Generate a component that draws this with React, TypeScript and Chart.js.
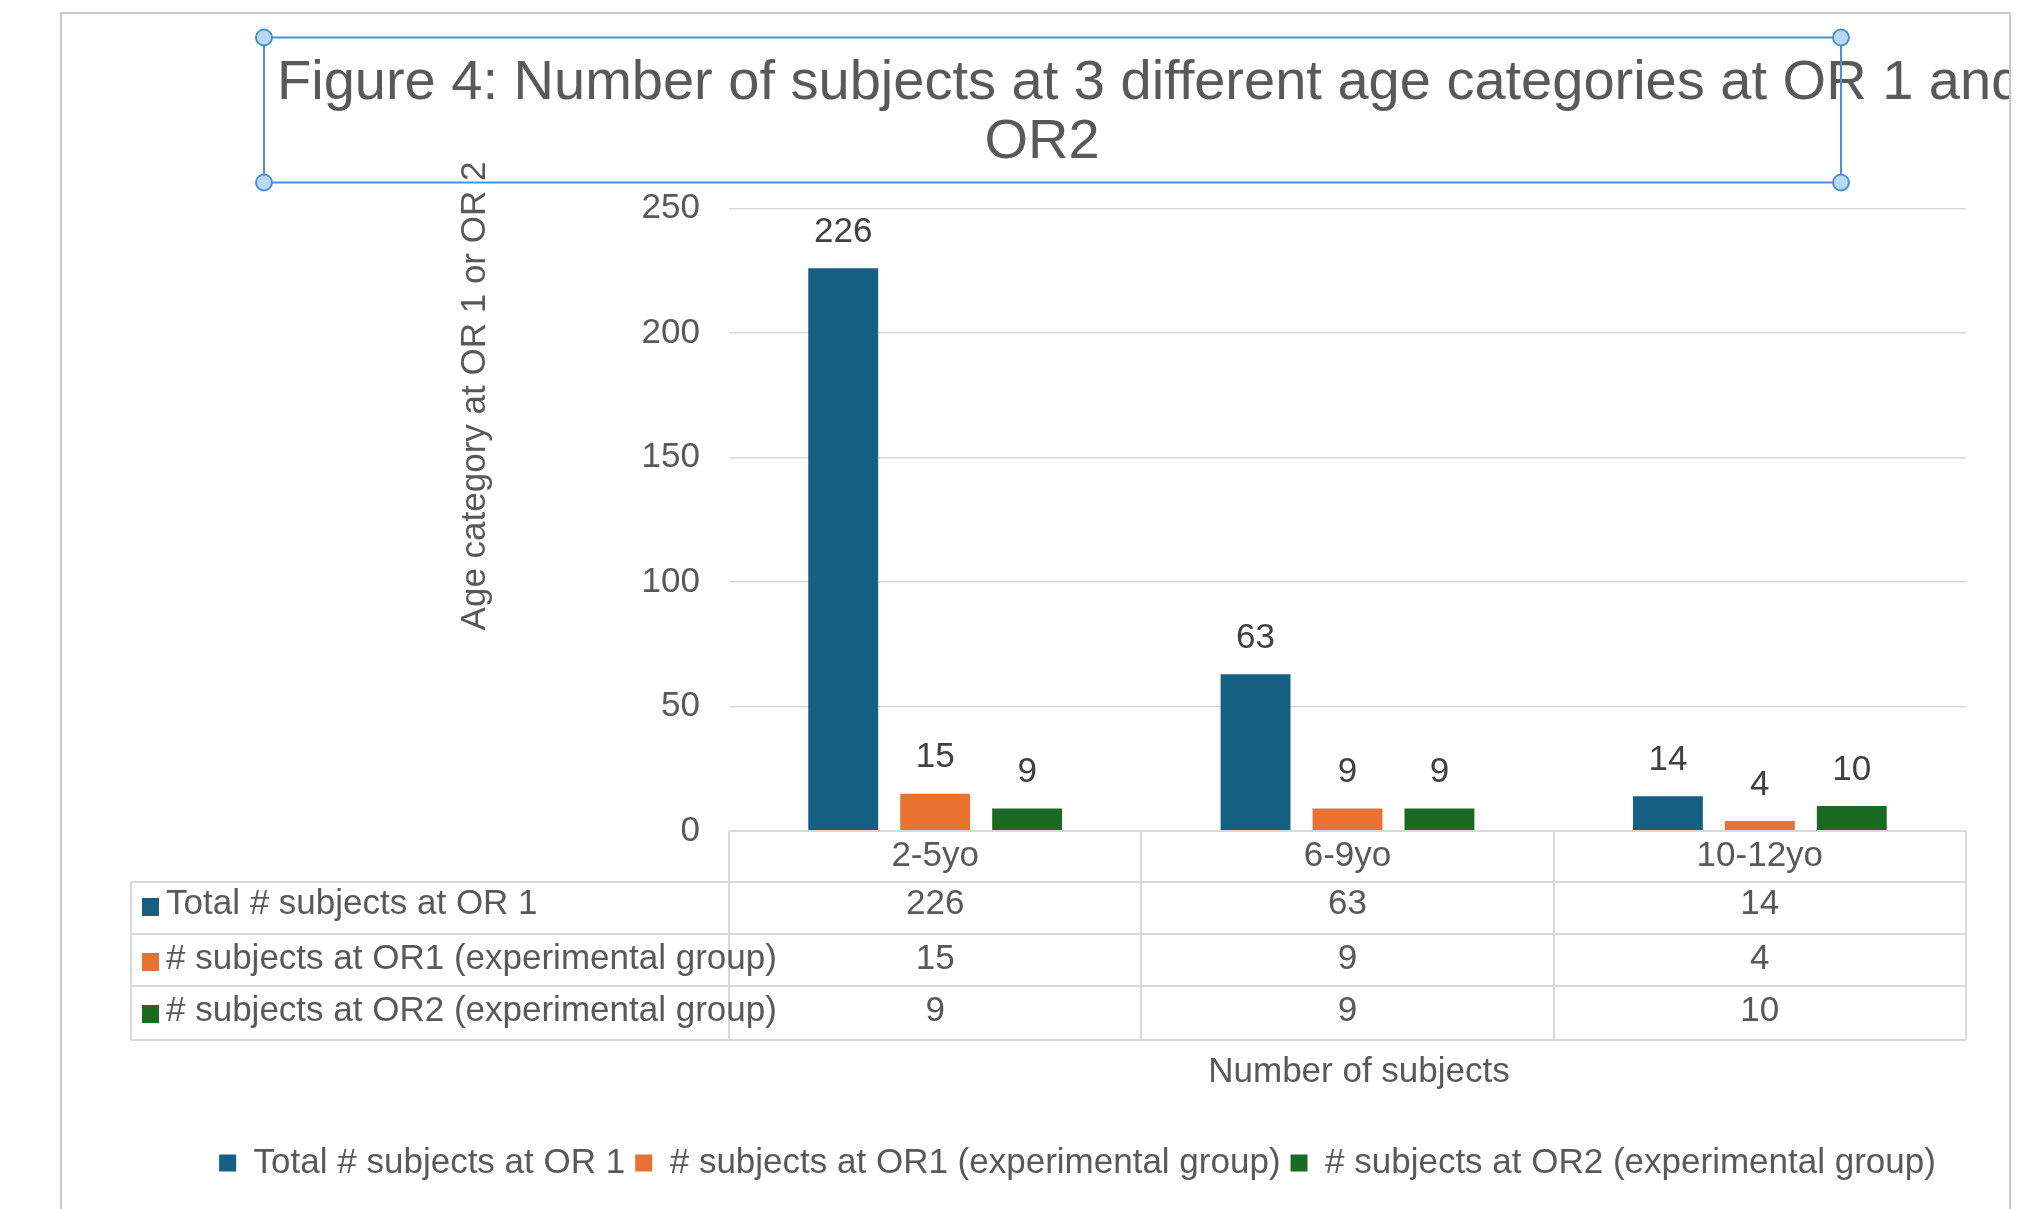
import React, { useEffect, useRef } from "react";
import { Chart, registerables } from "chart.js";

Chart.register(...registerables);

// ---- data ----
const categories = ["2-5yo", "6-9yo", "10-12yo"];
const seriesNames = [
  "Total # subjects at OR 1",
  "# subjects at OR1 (experimental group)",
  "# subjects at OR2 (experimental group)",
];
const totalOR1 = [226, 63, 14];
const expOR1 = [15, 9, 4];
const expOR2 = [9, 9, 10];
const seriesColors = ["#156082", "#E97132", "#196B24"];
const yTicks = [0, 50, 100, 150, 200, 250];
const titleLines = [
  "Figure 4: Number of subjects at 3 different age categories at OR 1 and",
  "OR2",
];
const yAxisTitle = "Age category at OR 1 or OR 2";
const xAxisTitle = "Number of subjects";

// ---- styles ----
const FONT = "'Liberation Sans', Arial, Helvetica, sans-serif";
const TEXT = "#595959";
const LABEL = "#404040";
const GRID = "#d9d9d9";
const FS = 35;

const seriesValues = [totalOR1, expOR1, expOR2];

const decorPlugin = {
  id: "decor",
  beforeDraw(chart: any) {
    const ctx = chart.ctx;
    ctx.save();
    ctx.fillStyle = "#ffffff";
    ctx.fillRect(0, 0, chart.width, chart.height);
    ctx.restore();
  },
  afterDraw(chart: any) {
    const ctx = chart.ctx;
    const xs = chart.scales.x;
    const ca = chart.chartArea;
    ctx.save();

    // ---- data labels above bars ----
    ctx.font = `${FS}px ${FONT}`;
    ctx.fillStyle = LABEL;
    ctx.textAlign = "center";
    ctx.textBaseline = "middle";
    chart.data.datasets.forEach((ds: any, di: number) => {
      const meta = chart.getDatasetMeta(di);
      meta.data.forEach((bar: any, i: number) => {
        ctx.fillText(String(ds.data[i]), bar.x, bar.y - 36);
      });
    });

    // ---- data table ----
    const half = (xs.getPixelForValue(1) - xs.getPixelForValue(0)) / 2;
    const tableLeft = 131;
    const top = Math.round(ca.bottom);
    const rowLines = [top + 51, top + 103, top + 155, top + 209];
    ctx.strokeStyle = GRID;
    ctx.lineWidth = 2;
    ctx.beginPath();
    const colX: number[] = [];
    for (let i = 0; i < categories.length; i++) colX.push(xs.getPixelForValue(i) - half);
    colX.push(xs.getPixelForValue(categories.length - 1) + half);
    colX.forEach((cx) => {
      ctx.moveTo(Math.round(cx), top);
      ctx.lineTo(Math.round(cx), rowLines[3]);
    });
    ctx.moveTo(ca.left, top);
    ctx.lineTo(ca.right, top);
    rowLines.forEach((ry) => {
      ctx.moveTo(tableLeft, ry);
      ctx.lineTo(Math.round(colX[colX.length - 1]), ry);
    });
    ctx.moveTo(tableLeft, rowLines[0]);
    ctx.lineTo(tableLeft, rowLines[3]);
    ctx.stroke();

    const rowOffsets = [-4, -1, -2];
    ctx.font = `${FS}px ${FONT}`;
    ctx.textBaseline = "middle";
    for (let r = 0; r < seriesNames.length; r++) {
      const cy = (rowLines[r] + rowLines[r + 1]) / 2 + rowOffsets[r];
      ctx.fillStyle = seriesColors[r];
      ctx.fillRect(142, cy - 6, 17, 18);
      ctx.fillStyle = TEXT;
      ctx.textAlign = "left";
      ctx.fillText(seriesNames[r], 166, cy);
      ctx.textAlign = "center";
      seriesValues[r].forEach((v, i) => {
        ctx.fillText(String(v), xs.getPixelForValue(i), cy);
      });
    }

    // ---- axis titles ----
    ctx.fillStyle = TEXT;
    ctx.font = `${FS}px ${FONT}`;
    ctx.textAlign = "center";
    ctx.textBaseline = "middle";
    ctx.fillText(xAxisTitle, 1359, 1072);
    ctx.save();
    ctx.translate(475, 396);
    ctx.rotate(-Math.PI / 2);
    ctx.fillText(yAxisTitle, 0, 0);
    ctx.restore();

    // ---- outer frame ----
    ctx.strokeStyle = "#c8c8c8";
    ctx.lineWidth = 2;
    ctx.beginPath();
    ctx.moveTo(61, chart.height);
    ctx.lineTo(61, 13);
    ctx.lineTo(2010, 13);
    ctx.lineTo(2010, chart.height);
    ctx.stroke();

    // ---- title (clipped by frame) ----
    ctx.save();
    ctx.beginPath();
    ctx.rect(0, 0, 2009, chart.height);
    ctx.clip();
    ctx.font = `56px ${FONT}`;
    ctx.fillStyle = TEXT;
    ctx.textBaseline = "middle";
    ctx.textAlign = "left";
    ctx.fillText(titleLines[0], 277, 84);
    ctx.textAlign = "center";
    ctx.fillText(titleLines[1], 1042, 143);
    ctx.restore();

    // ---- selection box around title ----
    const bx0 = 264, by0 = 37.5, bx1 = 1841, by1 = 182.5;
    ctx.strokeStyle = "#4a90d9";
    ctx.lineWidth = 2;
    ctx.strokeRect(bx0, by0, bx1 - bx0, by1 - by0);
    [[bx0, by0], [bx1, by0], [bx0, by1], [bx1, by1]].forEach(([hx, hy]) => {
      ctx.beginPath();
      ctx.arc(hx, hy, 8, 0, Math.PI * 2);
      ctx.fillStyle = "#b8d8f6";
      ctx.fill();
      ctx.stroke();
    });

    ctx.restore();
  },
};

export default function App() {
  const ref = useRef<HTMLCanvasElement | null>(null);

  useEffect(() => {
    if (!ref.current) return;
    const chart = new Chart(ref.current, {
      type: "bar",
      data: {
        labels: categories,
        datasets: seriesNames.map((name, i) => ({
          label: name,
          data: seriesValues[i],
          backgroundColor: seriesColors[i],
          borderWidth: 0,
          categoryPercentage: 0.669,
          barPercentage: 0.76,
        })),
      },
      options: {
        responsive: false,
        animation: false,
        devicePixelRatio: 1,
        layout: { padding: { left: 189, right: 64, top: 208.5, bottom: 18.5 } },
        plugins: {
          title: { display: false },
          tooltip: { enabled: false },
          legend: {
            position: "bottom",
            labels: {
              font: { family: FONT, size: FS },
              color: TEXT,
              boxWidth: 17,
              boxHeight: 17,
              padding: 10,
            },
          },
        },
        scales: {
          x: {
            grid: { display: false, drawTicks: false },
            border: { display: false },
            ticks: {
              font: { family: FONT, size: FS },
              color: TEXT,
              padding: 4,
              autoSkip: false,
              maxRotation: 0,
            },
            afterFit: (s: any) => {
              s.height = 304.5;
            },
          },
          y: {
            min: yTicks[0],
            max: yTicks[yTicks.length - 1],
            ticks: {
              stepSize: yTicks[1] - yTicks[0],
              font: { family: FONT, size: FS },
              color: TEXT,
              padding: 29,
            },
            grid: { color: GRID, lineWidth: 1.5, drawTicks: false },
            border: { display: false },
            afterFit: (s: any) => {
              s.width = 540;
            },
          },
        },
      },
      plugins: [decorPlugin],
    } as any);
    return () => chart.destroy();
  }, []);

  return (
    <div style={{ position: "absolute", left: 0, top: 0 }}>
      <canvas ref={ref} width={2030} height={1209} style={{ display: "block" }} />
    </div>
  );
}
